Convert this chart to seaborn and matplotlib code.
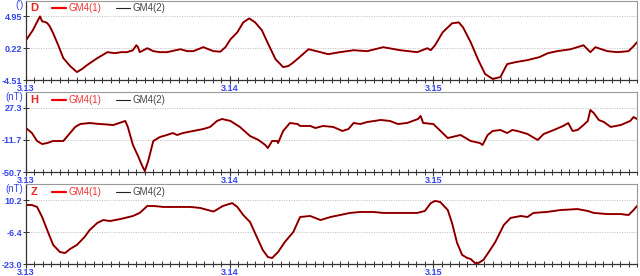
import numpy as np
import pandas as pd
import matplotlib
matplotlib.use("Agg")
import matplotlib.pyplot as plt
from matplotlib.lines import Line2D
import seaborn as sns

# ---------------- data (hours since 3.13 00:00, values) ----------------
d_hours = [0.0, 0.8, 1.4, 1.65, 1.9, 2.2, 2.5, 2.8, 3.2, 3.8, 4.4, 5.2, 6.0, 6.6, 7.2, 8.4, 9.6,
           10.5, 11.2, 11.9, 12.6, 13.0, 13.2, 13.4, 14.3, 15.0, 15.8, 16.6, 18.2, 19.0, 19.7,
           20.9, 21.5, 22.1, 22.9, 23.5, 24.1, 24.9, 25.6, 26.3, 27.0, 27.8, 28.5, 29.4, 30.3,
           30.9, 31.4, 32.1, 33.3, 34.7, 35.6, 37.0, 38.6, 40.2, 42.1, 44.1, 46.1, 47.3, 47.7,
           48.2, 49.1, 50.2, 51.0, 51.5, 52.4, 53.3, 54.1, 55.0, 55.9, 56.7, 57.7, 59.1, 60.5,
           61.5, 62.6, 64.2, 65.7, 66.5, 67.1, 68.5, 69.7, 71.0, 71.6, 72.0]
d_values = [1.40, 2.88, 4.36, 4.95, 4.21, 4.14, 3.96, 3.47, 2.44, 0.66, -1.26, -2.44, -3.33, -2.88,
            -2.29, -1.26, -0.37, -0.52, -0.37, -0.37, -0.08, 0.66, 0.37, -0.37, 0.22, -0.22, -0.37,
            -0.37, 0.07, -0.22, -0.22, 0.37, 0.07, -0.22, -0.30, 0.37, 1.55, 2.58, 4.06, 4.65, 4.06,
            2.88, 0.96, -1.41, -2.59, -2.44, -2.00, -1.26, 0.07, -0.37, -0.67, -0.37, -0.08, -0.22,
            0.37, -0.08, -0.37, 0.22, -0.08, 0.66, 2.58, 3.92, 4.06, 3.32, 1.11, -1.55, -3.62,
            -4.36, -4.07, -2.14, -1.85, -1.55, -1.11, -0.52, -0.22, 0.07, 0.66, -0.37, 0.37, -0.22,
            -0.37, -0.22, 0.52, 1.11]

h_hours = [0.0, 0.7, 1.3, 1.9, 2.5, 3.2, 4.0, 4.4, 5.0, 5.8, 6.4, 7.5, 8.7, 10.3, 11.7, 12.0, 12.6,
           13.2, 13.7, 14.0, 14.4, 15.0, 15.8, 16.6, 17.3, 17.8, 18.5, 19.7, 20.9, 21.7, 22.5, 23.1,
           24.1, 25.2, 26.4, 27.4, 28.2, 28.5, 29.0, 29.6, 29.7, 30.3, 31.1, 32.0, 32.3, 33.5, 34.1,
           35.0, 36.2, 37.3, 38.0, 38.6, 39.4, 40.2, 41.8, 42.9, 43.8, 44.9, 46.2, 46.5, 46.8, 48.0,
           49.7, 51.2, 52.4, 53.5, 53.8, 54.4, 55.0, 55.9, 56.7, 57.3, 57.9, 59.1, 60.3, 61.0, 62.2,
           63.3, 63.9, 64.4, 65.0, 65.7, 66.2, 66.5, 66.9, 67.5, 68.1, 68.9, 70.1, 71.2, 71.6, 72.0]
h_values = [2.9, -3.2, -12.9, -16.6, -15.4, -12.9, -12.9, -12.9, -5.6, 4.2, 7.8, 9.0, 7.8, 6.6, 11.5,
            4.2, -17.8, -31.2, -43.4, -49.5, -37.3, -12.9, -8.0, -5.6, -3.2, -5.6, -3.2, -0.7, 1.7,
            4.2, 11.5, 13.9, 11.5, 4.2, -6.8, -11.7, -17.8, -21.5, -12.9, -12.9, -15.4, -0.7, 9.0,
            7.8, 5.4, 5.4, 2.9, 5.4, 4.2, -0.7, 1.7, 9.0, 7.8, 10.2, 12.7, 11.5, 7.8, 9.0, 13.9,
            17.6, 9.0, 7.8, -9.3, -5.6, -12.9, -15.4, -17.8, -5.6, -0.7, 0.5, -3.2, 0.5, -0.7, -4.4,
            -11.7, -4.4, 0.5, 5.4, 9.0, -0.7, 0.5, 6.6, 11.5, 24.9, 21.2, 12.7, 10.2, 4.2, 6.6, 11.5,
            16.3, 13.9]

z_hours = [0.0, 0.7, 1.3, 1.9, 2.5, 3.2, 4.0, 4.6, 5.2, 6.0, 6.9, 7.5, 8.4, 9.1, 9.9, 11.1, 12.6,
           13.4, 14.3, 15.0, 16.2, 17.8, 19.3, 20.5, 22.1, 23.2, 24.3, 24.9, 25.6, 26.4, 27.2, 27.9,
           28.5, 29.0, 29.7, 30.5, 31.5, 32.3, 33.5, 34.7, 35.9, 37.0, 38.2, 39.4, 40.9, 42.1, 44.1,
           46.1, 47.0, 47.7, 48.2, 48.8, 49.7, 50.2, 50.8, 51.4, 52.0, 52.4, 52.9, 53.3, 53.9, 54.7,
           55.3, 56.3, 57.1, 58.3, 59.1, 59.8, 61.4, 63.0, 65.0, 66.2, 66.9, 68.5, 70.1, 71.0, 71.6,
           72.0]
z_values = [7.6, 7.6, 6.6, 1.4, -5.4, -13.1, -16.8, -17.3, -15.2, -13.1, -9.0, -5.4, -1.7, -0.2, -0.7,
            0.3, 1.9, 3.5, 7.1, 7.1, 6.6, 6.6, 6.6, 6.1, 4.2, 7.1, 8.6, 6.6, 2.4, -1.2, -9.0, -15.7,
            -19.4, -19.9, -16.8, -11.6, -6.4, 1.4, 1.9, -0.2, 1.4, 2.4, 3.5, 4.0, 4.0, 3.5, 3.5, 3.5,
            4.5, 8.6, 9.7, 9.2, 5.0, -1.7, -12.1, -18.3, -19.9, -20.4, -22.5, -22.5, -20.9, -15.7,
            -11.6, -2.8, 0.9, 1.9, 1.4, 3.5, 4.0, 5.0, 5.5, 4.5, 3.5, 2.9, 2.9, 2.4, 5.0, 7.1]

panels = ["D", "H", "Z"]
units = ["(')", "(nT)", "(nT)"]
ytick_vals = [[-4.51, 0.22, 4.95], [-50.7, -11.7, 27.3], [-23.0, -6.4, 10.2]]
ytick_labels = [["-4.51", "0.22", "4.95"], ["-50.7", "-11.7", "27.3"], ["-23.0", "-6.4", "10.2"]]
xtick_days = [0, 1, 2]
xtick_labels = ["3.13", "3.14", "3.15"]
series_names = ["GM4(1)", "GM4(2)"]

hours_all = [d_hours, h_hours, z_hours]
values_all = [d_values, h_values, z_values]

# ---------------- drawing ----------------
sns.set_theme(style="white")
plt.rcParams['font.family'] = ['Liberation Sans', 'DejaVu Sans']

W, H = 640, 276
fig = plt.figure(figsize=(6.4, 2.76), dpi=100)
fig.patch.set_facecolor("white")

left_px, right_px = 26, 637
panel_px = [(0.5, 80), (92, 172), (184, 264)]
blue = "#3344ee"

for i, name in enumerate(panels):
    top, bot = panel_px[i]
    ax = fig.add_axes([left_px / W, 1 - bot / H, (right_px - left_px) / W, (bot - top) / H])
    df1 = pd.DataFrame({"day": np.array(hours_all[i]) / 24.0, "val": values_all[i]})
    df2 = pd.DataFrame({"day": np.array(hours_all[i]) / 24.0, "val": values_all[i]})
    sns.lineplot(data=df1, x="day", y="val", color="#ee0000", linewidth=1.4,
                 ax=ax, estimator=None, sort=False)
    sns.lineplot(data=df2, x="day", y="val", color="#220000", linewidth=0.8,
                 ax=ax, estimator=None, sort=False, alpha=0.75)
    ax.set_xlim(0, 3.0)
    lo = ytick_vals[i][0]
    step = ytick_vals[i][1] - ytick_vals[i][0]
    ax.set_ylim(lo, lo + 2.5 * step)
    ax.set_xlabel("")
    ax.set_ylabel("")

    ax.set_yticks(ytick_vals[i])
    ax.set_yticklabels(ytick_labels[i], color=blue, fontsize=6.5, fontweight="bold")
    ax.set_xticks(xtick_days)
    ax.set_xticklabels(xtick_labels, color=blue, fontsize=6.5, fontweight="bold")
    ax.set_xticks(np.arange(0, 3.0001, 1 / 24), minor=True)
    ax.tick_params(axis="x", which="major", direction="inout", length=6, width=0.8, pad=0,
                   colors="#333333", labelcolor=blue)
    ax.tick_params(axis="x", which="minor", direction="inout", length=4, width=0.7, colors="#333333")
    ax.tick_params(axis="y", which="major", direction="inout", length=4, width=0.7, pad=1,
                   colors="#333333", labelcolor=blue)
    ax.tick_params(left=True, bottom=True, which="both")
    for yv in ytick_vals[i][1:]:
        ax.axhline(yv, color="#bbbbbb", lw=0.7, ls=(0, (1, 1.5)), zorder=0)

    for sp in ["top", "right"]:
        ax.spines[sp].set_color("#999999")
        ax.spines[sp].set_linewidth(0.8)
    for sp in ["left", "bottom"]:
        ax.spines[sp].set_color("#333333")
        ax.spines[sp].set_linewidth(0.9)

    ax.text(0.007, 0.9, name, transform=ax.transAxes, color="#ee2222", fontsize=8,
            fontweight="bold", ha="left", va="center")
    ax.text(-0.004, 0.94, units[i], transform=ax.transAxes, color=blue, fontsize=7,
            ha="right", va="center")
    handles = [Line2D([], [], color="#ee0000", lw=1.6), Line2D([], [], color="#222222", lw=0.8)]
    leg = ax.legend(handles, series_names, loc="center left", bbox_to_anchor=(0.0425, 0.9),
                    ncol=2, frameon=False, fontsize=7, handlelength=1.4, handletextpad=0.3,
                    columnspacing=1.5, borderaxespad=0, borderpad=0)
    leg.get_texts()[0].set_color("#ee3333")
    leg.get_texts()[1].set_color("#444444")

fig.savefig("out.png", dpi=100, facecolor="white")
